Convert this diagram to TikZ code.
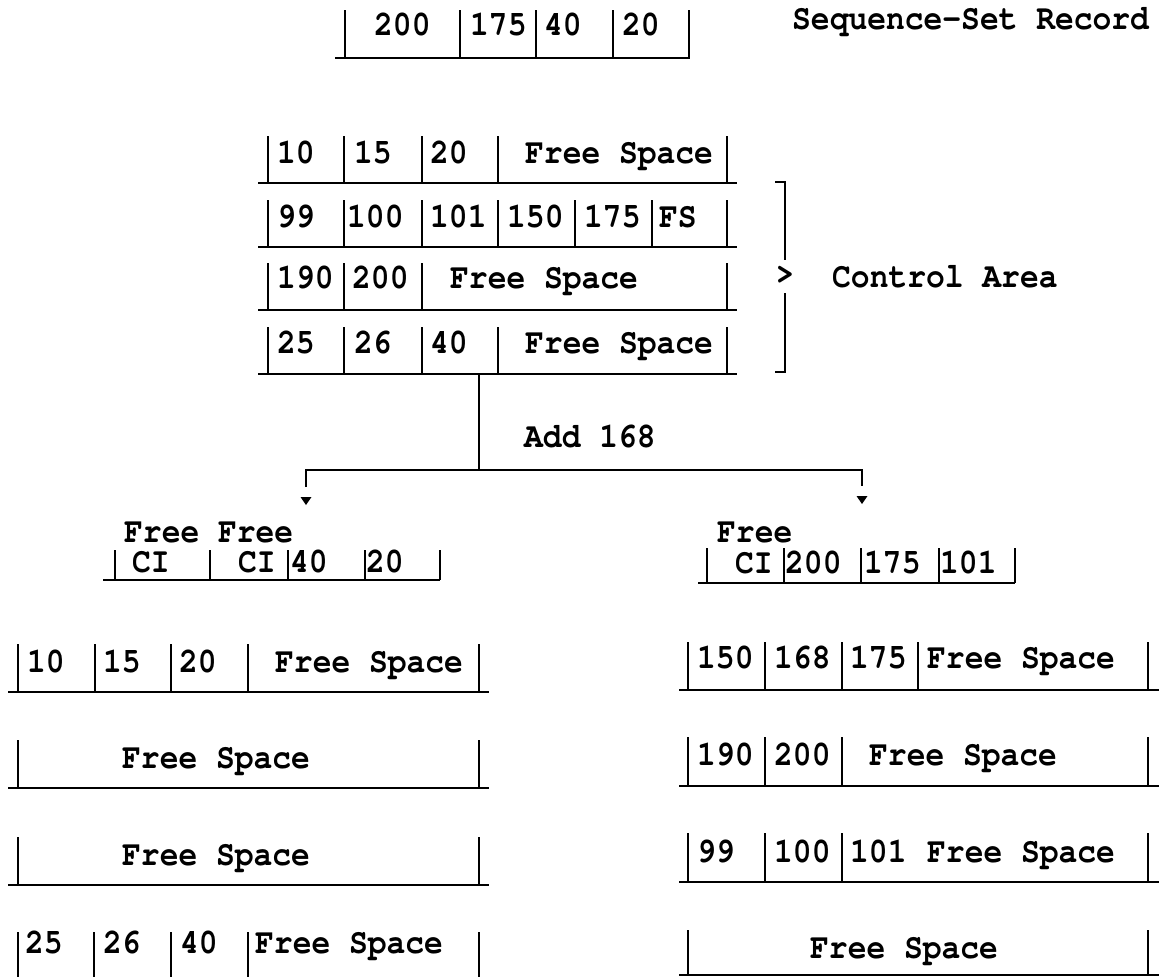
\documentclass[tikz,border=0pt]{standalone}
\usepackage{fontspec}
\setmainfont{TeX Gyre Cursor}
\newcommand\T[1]{\scalebox{1}[1.13]{#1}}
\begin{document}
\begin{tikzpicture}[x=1pt,y=-1pt,
  txt/.style={anchor=base west, inner sep=0pt, font=\fontsize{31.3}{36}\selectfont\bfseries},
  rule/.style={line width=2.4pt},
  conn/.style={line width=2.2pt},
  tip/.style={fill=black}]
\clip (0,0) rectangle (1163,977);
\useasboundingbox (0,0) rectangle (1163,977);

% ---------- Sequence-set record ----------
\draw[rule] (335,58) -- (690,58);
\foreach \x in {345,460,536,613,689} \draw[rule] (\x,10) -- (\x,58);
\node[txt] (s1) at (374,35) {\T{200}};
\node[txt] (s2) at (470,35) {\T{175}};
\node[txt] (s3) at (544,35) {\T{40}};
\node[txt] (s4) at (622,35) {\T{20}};
\node[txt] (ssr) at (792,30) {\T{Sequence-Set Record}};

% ---------- Control area ----------
\draw[rule] (258,183) -- (737,183);
\foreach \x in {268,344,422,498,727} \draw[rule] (\x,136) -- (\x,183);
\node[txt] (c11) at (277,163) {\T{10}};
\node[txt] (c12) at (354,163) {\T{15}};
\node[txt] (c13) at (430,163) {\T{20}};
\node[txt] (c14) at (525,163) {\T{Free Space}};

\draw[rule] (258,247) -- (737,247);
\foreach \x in {268,344,422,498,575,652,727} \draw[rule] (\x,200) -- (\x,247);
\node[txt] (c21) at (277,227) {\T{99}};
\node[txt] (c22) at (347,227) {\T{100}};
\node[txt] (c23) at (430,227) {\T{101}};
\node[txt] (c24) at (507,227) {\T{150}};
\node[txt] (c25) at (584,227) {\T{175}};
\node[txt] (c26) at (659,227) {\T{FS}};

\draw[rule] (258,310) -- (737,310);
\foreach \x in {268,344,422,727} \draw[rule] (\x,263) -- (\x,310);
\node[txt] (c31) at (277,288) {\T{190}};
\node[txt] (c32) at (352,288) {\T{200}};
\node[txt] (c33) at (450,288) {\T{Free Space}};

\draw[rule] (258,374) -- (737,374);
\foreach \x in {268,344,422,498,727} \draw[rule] (\x,327) -- (\x,374);
\node[txt] (c41) at (277,353) {\T{25}};
\node[txt] (c42) at (354,353) {\T{26}};
\node[txt] (c43) at (430,353) {\T{40}};
\node[txt] (c44) at (525,353) {\T{Free Space}};

% bracket
\draw[conn] (775,182) -- (785,182) -- (785,260);
\draw[conn] (785,293) -- (785,372) -- (775,372);
\node[txt, anchor=center] (gt) at (785,275) {\T{>}};
\node[txt] (ca) at (832,287) {\T{Control Area}};

% ---------- Split connector ----------
\coordinate (top) at (479,374);
\coordinate (mid) at (479,470);
\coordinate (lc) at (306,470);
\coordinate (rc) at (862,470);
\coordinate (le) at (306,487);
\coordinate (re) at (862,486);
\draw[conn] (top) -- (mid);
\draw[conn] (le) -- (lc) -- (rc) -- (re);
\fill[tip] (300.5,497) -- (311.5,497) -- (306,505) -- cycle;
\fill[tip] (856.5,496) -- (867.5,496) -- (862,504) -- cycle;
\node[txt] (add) at (524,447) {\T{Add 168}};

% ---------- Left record ----------
\node[txt] (lf) at (124,542) {\T{Free Free}};
\draw[rule] (103,580) -- (440,580);
\foreach \x in {115,210,288,365,440} \draw[rule] (\x,550) -- (\x,580);
\node[txt] (l1) at (132,572) {\T{CI}};
\node[txt] (l2) at (238,572) {\T{CI}};
\node[txt] (l3) at (290,572) {\T{40}};
\node[txt] (l4) at (366,572) {\T{20}};

% ---------- Right record ----------
\node[txt] (rf) at (717,542) {\T{Free}};
\draw[rule] (698,583) -- (1015,583);
\foreach \x in {707,784,861,939,1015} \draw[rule] (\x,548) -- (\x,583);
\node[txt] (r1) at (735,573) {\T{CI}};
\node[txt] (r2) at (785,573) {\T{200}};
\node[txt] (r3) at (864,573) {\T{175}};
\node[txt] (r4) at (940,573) {\T{101}};

% ---------- Left control area ----------
\draw[rule] (8,692) -- (489,692);
\foreach \x in {18,95,171,248,479} \draw[rule] (\x,644) -- (\x,692);
\node[txt] (a11) at (27,672) {\T{10}};
\node[txt] (a12) at (103,672) {\T{15}};
\node[txt] (a13) at (179,672) {\T{20}};
\node[txt] (a14) at (275,672) {\T{Free Space}};

\draw[rule] (8,788) -- (489,788);
\foreach \x in {18,479} \draw[rule] (\x,740) -- (\x,788);
\node[txt] (a21) at (122,768) {\T{Free Space}};

\draw[rule] (8,885) -- (489,885);
\foreach \x in {18,479} \draw[rule] (\x,837) -- (\x,885);
\node[txt] (a31) at (122,865) {\T{Free Space}};

\foreach \x in {18,94,171,248,479} \draw[rule] (\x,932) -- (\x,981);
\node[txt] (a41) at (25,953) {\T{25}};
\node[txt] (a42) at (103,953) {\T{26}};
\node[txt] (a43) at (180,953) {\T{40}};
\node[txt] (a44) at (255,953) {\T{Free Space}};

% ---------- Right control area ----------
\draw[rule] (679,690) -- (1159,690);
\foreach \x in {688,765,842,918,1148} \draw[rule] (\x,642) -- (\x,690);
\node[txt] (b11) at (697,668) {\T{150}};
\node[txt] (b12) at (774,668) {\T{168}};
\node[txt] (b13) at (850,668) {\T{175}};
\node[txt] (b14) at (927,668) {\T{Free Space}};

\draw[rule] (679,786) -- (1159,786);
\foreach \x in {688,765,842,1148} \draw[rule] (\x,737) -- (\x,786);
\node[txt] (b21) at (697,765) {\T{190}};
\node[txt] (b22) at (774,765) {\T{200}};
\node[txt] (b23) at (869,765) {\T{Free Space}};

\draw[rule] (679,882) -- (1159,882);
\foreach \x in {688,765,842,1148} \draw[rule] (\x,833) -- (\x,882);
\node[txt] (b31) at (697,862) {\T{99}};
\node[txt] (b32) at (774,862) {\T{100}};
\node[txt] (b33) at (850,862) {\T{101}};
\node[txt] (b34) at (927,862) {\T{Free Space}};

\draw[rule] (679,975) -- (1159,975);
\foreach \x in {688,1148} \draw[rule] (\x,930) -- (\x,975);
\node[txt] (b41) at (810,958) {\T{Free Space}};
\end{tikzpicture}
\end{document}
